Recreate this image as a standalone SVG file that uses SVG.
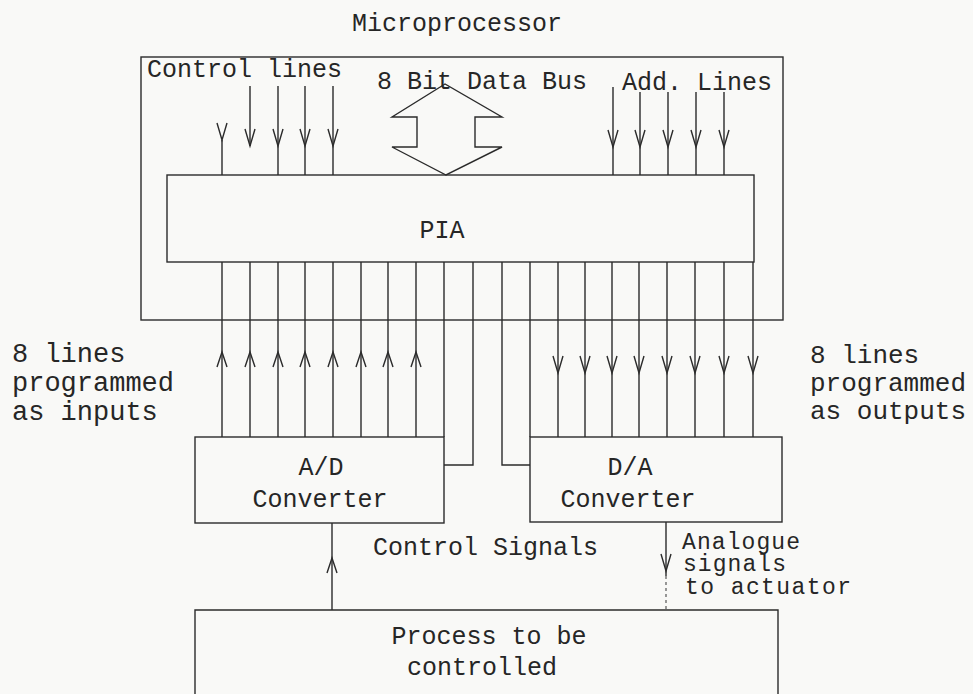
<svg xmlns="http://www.w3.org/2000/svg" width="973" height="694" viewBox="0 0 973 694">
<style>
  .ln{stroke:#2b2b2b;stroke-width:1.4;fill:none}
  .dash{stroke:#555;stroke-width:1.2;fill:none;stroke-dasharray:3 3}
  text{font-family:"Liberation Mono","Courier New",monospace;font-size:25px;fill:#262626}
  .m{text-anchor:middle}
  .big{font-size:27px}
  .mid{font-size:26px}
  .sm{font-size:23px}
</style>
<defs>
  <path id="adn" class="ln" d="M-5,-17 L0,0 L5,-17"/>
  <path id="aup" class="ln" d="M-5,15 L0,0 L5,15"/>
</defs>
<rect width="973" height="694" fill="#f9f9f7"/>

<g id="microprocessor">
  <rect class="ln" x="141" y="57" width="642" height="263"/>
  <text x="352" y="31">Microprocessor</text>
</g>

<g id="pia">
  <rect class="ln" x="167" y="175" width="587" height="87"/>
  <text class="m" x="442" y="238">PIA</text>
</g>

<g id="data-bus">
  <polygon class="ln" points="445,84 392,117 417,117 417,147 392,147 446,175 502,147 475,147 475,117 502,117"/>
  <text x="377" y="89">8 Bit Data Bus</text>
</g>

<g id="ad-converter">
  <rect class="ln" x="195" y="437" width="249" height="86"/>
  <text class="m" x="321" y="475">A/D</text>
  <text class="m" x="320" y="507">Converter</text>
</g>

<g id="da-converter">
  <rect class="ln" x="530" y="437" width="252" height="85"/>
  <text class="m" x="630" y="475">D/A</text>
  <text class="m" x="628" y="507">Converter</text>
</g>

<g id="process">
  <path class="ln" d="M195,694 V610 H778 V694"/>
  <text class="m" x="489" y="644">Process to be</text>
  <text class="m" x="482" y="675">controlled</text>
</g>

<g id="labels">
  <text x="147" y="77">Control lines</text>
  <text x="622" y="90">Add. Lines</text>
  <text class="big" x="12" y="362">8 lines</text>
  <text class="big" x="12" y="391">programmed</text>
  <text class="big" x="12" y="420">as inputs</text>
  <text class="mid" x="810" y="363">8 lines</text>
  <text class="mid" x="810" y="391">programmed</text>
  <text class="mid" x="810" y="419">as outputs</text>
  <text x="373" y="555">Control Signals</text>
  <text class="sm" x="682" y="549" textLength="118">Analogue</text>
  <text class="sm" x="683" y="571" textLength="103">signals</text>
  <text class="sm" x="685" y="594" textLength="166">to actuator</text>
</g>

<g id="connectors">
  <!-- control lines -->
  <path class="ln" d="M222,140 V175 M250,86 V146 M278,86 V175 M305,86 V175 M333,86 V175"/>
  <use href="#adn" x="222" y="140"/>
  <use href="#adn" x="250" y="146"/>
  <use href="#adn" x="278" y="146"/>
  <use href="#adn" x="305" y="146"/>
  <use href="#adn" x="333" y="146"/>
  <!-- address lines -->
  <path class="ln" d="M613,87 V175 M640,92 V175 M668,92 V175 M696,92 V175 M724,92 V175"/>
  <use href="#adn" x="613" y="147"/>
  <use href="#adn" x="640" y="147"/>
  <use href="#adn" x="668" y="147"/>
  <use href="#adn" x="696" y="147"/>
  <use href="#adn" x="724" y="147"/>
  <!-- input lines -->
  <path class="ln" d="M222,262 V437 M250,262 V437 M278,262 V437 M305,262 V437 M333,262 V437 M361,262 V437 M388,262 V437 M416,262 V437"/>
  <use href="#aup" x="222" y="352"/>
  <use href="#aup" x="250" y="352"/>
  <use href="#aup" x="278" y="352"/>
  <use href="#aup" x="305" y="352"/>
  <use href="#aup" x="333" y="352"/>
  <use href="#aup" x="361" y="352"/>
  <use href="#aup" x="388" y="352"/>
  <use href="#aup" x="416" y="352"/>
  <!-- converter control lines -->
  <path class="ln" d="M444,262 V437 M473,262 V465 H444 M502,262 V465 H530 M530,262 V437"/>
  <!-- output lines -->
  <path class="ln" d="M558,262 V437 M585,262 V437 M612,262 V437 M639,262 V437 M667,262 V437 M695,262 V437 M724,262 V437 M753,262 V437"/>
  <use href="#adn" x="558" y="373"/>
  <use href="#adn" x="585" y="373"/>
  <use href="#adn" x="612" y="373"/>
  <use href="#adn" x="639" y="373"/>
  <use href="#adn" x="667" y="373"/>
  <use href="#adn" x="695" y="373"/>
  <use href="#adn" x="724" y="373"/>
  <use href="#adn" x="753" y="373"/>
  <!-- control signals from process -->
  <path class="ln" d="M332,610 V523"/>
  <use href="#aup" x="332" y="558"/>
  <!-- analogue signals to actuator -->
  <path class="ln" d="M666,522 V576"/>
  <path class="dash" d="M666,576 V610"/>
  <use href="#adn" x="666" y="571"/>
</g>
</svg>
